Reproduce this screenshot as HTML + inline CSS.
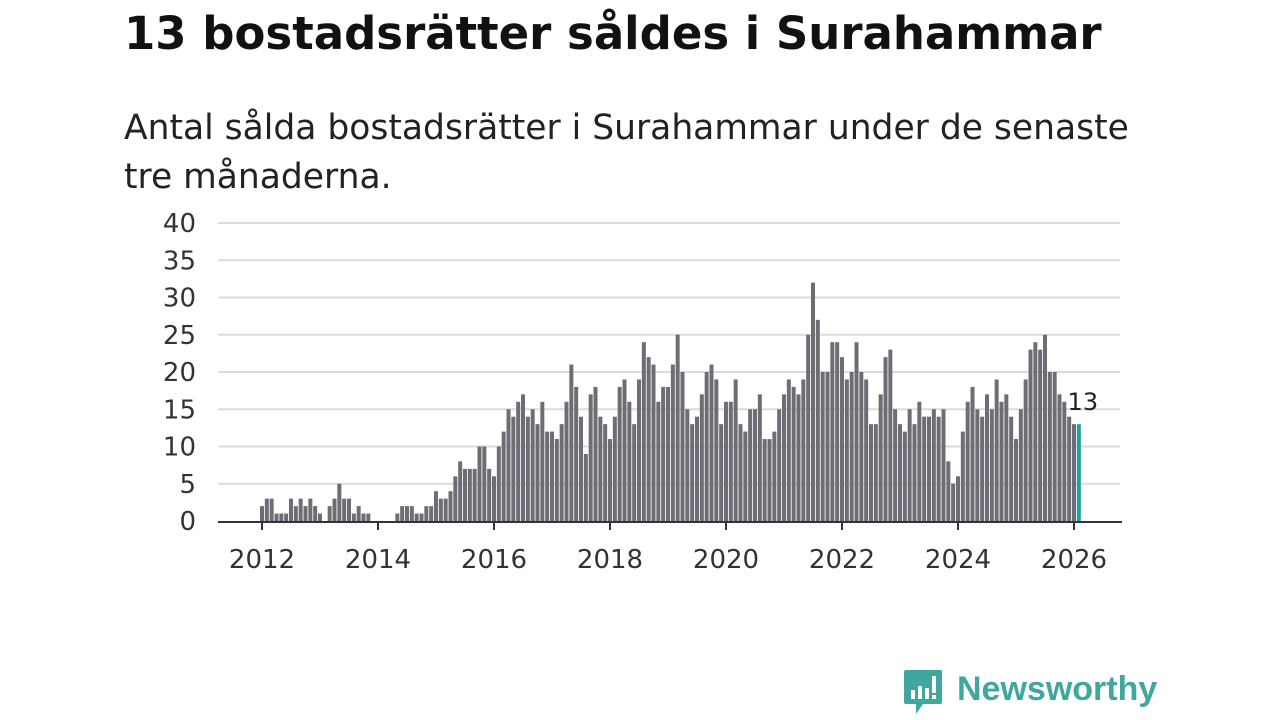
<!DOCTYPE html>
<html><head><meta charset="utf-8">
<style>
body{margin:0;width:1280px;height:720px;background:#fff;font-family:"DejaVu Sans","Liberation Sans",sans-serif;overflow:hidden;position:relative}
#title{position:absolute;left:124px;top:7px;font-size:45px;font-weight:bold;color:#111;margin:0;white-space:nowrap}
#sub{position:absolute;left:124px;top:104px;font-size:34.5px;color:#222;line-height:49px;width:1040px}
svg{position:absolute;left:0;top:0}
</style></head><body>
<h1 id="title">13 bostadsrätter såldes i Surahammar</h1>
<div id="sub">Antal sålda bostadsrätter i Surahammar under de senaste tre månaderna.</div>
<svg id="chart" width="1280" height="720"></svg>
<div style="position:absolute;left:903px;top:668px;height:50px;display:flex;align-items:center">
<svg width="40" height="50" style="position:static"><path d="M3 2h34a2 2 0 0 1 2 2v30a2 2 0 0 1-2 2H20l-7 10v-10H3a2 2 0 0 1-2-2V4a2 2 0 0 1 2-2z" fill="#3fa79d"/><rect x="8" y="22" width="4" height="9" fill="#fff"/><rect x="15" y="18" width="4" height="13" fill="#fff"/><rect x="22" y="20" width="4" height="11" fill="#fff"/><rect x="29" y="8" width="4" height="17" fill="#fff"/><rect x="29" y="27" width="4" height="4" fill="#fff"/></svg>
<span style="font-family:'Liberation Sans',sans-serif;font-size:34px;font-weight:bold;color:#3fa79d;margin-left:14px;margin-top:-8px">Newsworthy</span>
</div>
<script>
const values=[2,3,3,1,1,1,3,2,3,2,3,2,1,0,2,3,5,3,3,1,2,1,1,0,0,0,0,0,
1,2,2,2,1,1,2,2,4,3,3,4,6,8,7,7,7,10,10,7,6,
10,12,15,14,16,17,14,15,13,16,12,12,11,13,16,21,18,14,9,17,18,14,13,11,
14,18,19,16,13,19,24,22,21,16,18,18,21,25,
20,15,13,14,17,20,21,19,13,
16,16,19,13,12,15,15,17,11,11,12,15,17,19,18,17,19,25,32,
27,20,20,24,24,22,19,20,24,20,19,13,13,17,22,23,15,13,12,15,13,16,14,14,15,14,15,8,5,
6,12,16,18,15,14,17,15,19,16,17,14,11,15,19,23,24,23,25,20,20,17,16,14,13,13];
const yTicks=[0,5,10,15,20,25,30,35,40];
const xTickYears=[2012,2014,2016,2018,2020,2022,2024,2026];
const startYear=2012;
const NS="http://www.w3.org/2000/svg";
const svg=document.getElementById('chart');
const x0=262,pxMonth=58/12,y0=521,pxUnit=(521-223)/40;
const xs=i=>x0+i*pxMonth;
const ys=v=>y0-v*pxUnit;
const FF='DejaVu Sans, Liberation Sans, sans-serif';
function mk(t,a){const e=document.createElementNS(NS,t);for(const k in a)e.setAttribute(k,a[k]);svg.appendChild(e);return e;}
yTicks.forEach(t=>{
 if(t>0){const g=mk('line',{x1:218,x2:1120,y1:ys(t),y2:ys(t),stroke:'#dcdcdc','stroke-width':2});
 
 }
 const l=mk('text',{x:196,y:ys(t)+9,'text-anchor':'end','font-size':26,fill:'#333','font-family':FF});
 l.textContent=t;
 
 
});
values.forEach((v,i)=>{
 const last=i===values.length-1;
 const r=mk('rect',{x:xs(i)-2,y:ys(v),width:4,height:v*pxUnit,fill:last?'#1aa59a':'#6e6d75'});
 
 
});
const ax=mk('line',{x1:218,x2:1122,y1:y0+1,y2:y0+1,stroke:'#333','stroke-width':2});


xTickYears.forEach(yr=>{
 const x=xs((yr-startYear)*12);
 const tk=mk('line',{x1:x,x2:x,y1:y0+1,y2:y0+9,stroke:'#333','stroke-width':2});
 
 
 const l=mk('text',{x:x,y:568,'text-anchor':'middle','font-size':26,fill:'#333','font-family':FF});
 l.textContent=yr;
 
 
});
const li=values.length-1;
const lab=mk('text',{x:xs(li)+4,y:ys(values[li])-14,'text-anchor':'middle','font-size':24,fill:'#222','font-family':FF});
lab.textContent=values[li];


</script>
</body></html>
